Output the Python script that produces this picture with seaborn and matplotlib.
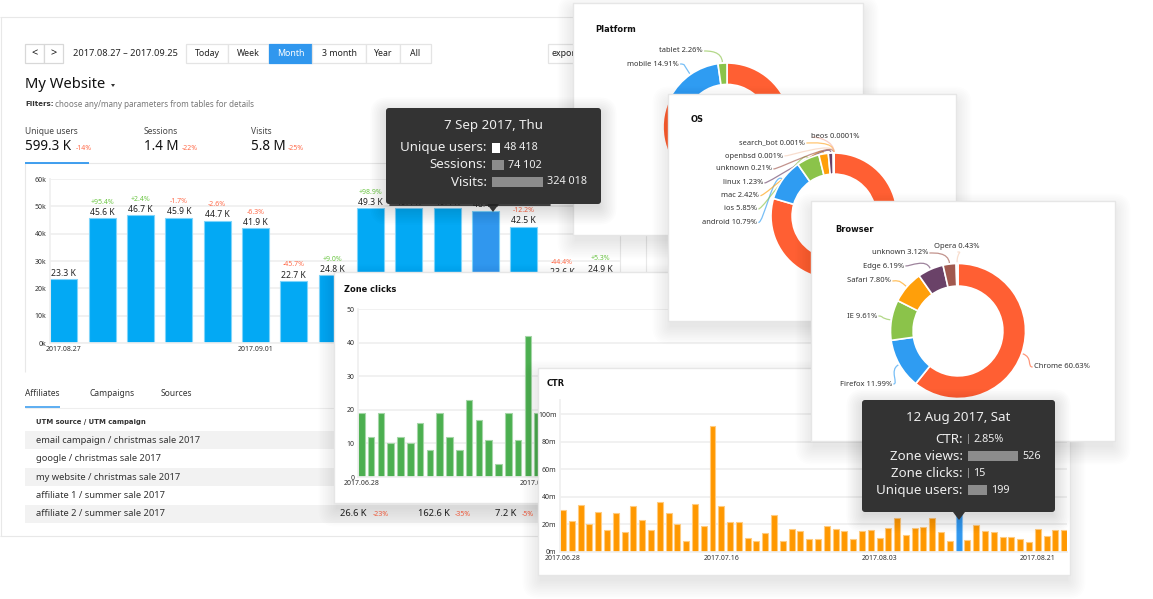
import matplotlib
matplotlib.use('Agg')
import matplotlib.pyplot as plt
import seaborn as sns
import numpy as np
import pandas as pd
from matplotlib.patches import Rectangle, FancyBboxPatch, Polygon, PathPatch
from matplotlib.path import Path

W, H = 1153, 599

# main chart
main_values = [23.3, 45.6, 46.7, 45.9, 44.7, 41.9, 22.7, 24.8, 49.3, 49.4, 49.4, 48.4, 42.5, 23.6, 24.9]
main_deltas = ['', '+95.4%', '+2.4%', '-1.7%', '-2.6%', '-6.3%', '-45.7%', '+9.0%', '+98.9%', '+0.2%', '0.0%', '-2.0%', '-12.2%', '-44.4%', '+5.3%']
main_labels = ['%.1f K' % v for v in main_values]

# zone clicks
zone_values = [19, 12, 19, 10, 12, 10, 16, 8, 19, 12, 8, 23, 17, 11, 4, 19, 11, 42, 19]

# ctr
ctr_values = [30, 22, 34, 20, 29, 15.7, 28, 14, 33, 23, 16, 36, 28, 20.3, 8, 34.4, 19, 91.5, 33, 21.5,
              21.5, 10, 7.7, 13.8, 27, 7.7, 16.5, 14.8, 9, 9, 19, 16.2, 15, 9.2, 15, 16, 10, 17, 24.5, 12.4,
              17.2, 18, 24.2, 14, 8, 28.5, 8.7, 19.6, 15, 14, 10.7, 11, 9.2, 7.3, 16.2, 11.4, 15.8, 15.8]

# donuts
platform_names = ['desktop', 'mobile', 'tablet']
platform_values = [82.83, 14.91, 2.26]
os_names = ['windows', 'android', 'ios', 'mac', 'linux', 'unknown', 'openbsd', 'search_bot', 'beos']
os_values = [79.49, 10.79, 5.85, 2.42, 1.23, 0.21, 0.001, 0.001, 0.0001]
os_text = ['', '10.79%', '5.85%', '2.42%', '1.23%', '0.21%', '0.001%', '0.001%', '0.0001%']
browser_names = ['Chrome', 'Firefox', 'IE', 'Safari', 'Edge', 'unknown', 'Opera']
browser_values = [60.63, 11.99, 9.61, 7.80, 6.19, 3.12, 0.43]

# tables and tooltips
table_rows = ['email campaign / christmas sale 2017', 'google / christmas sale 2017',
              'my website / christmas sale 2017', 'affiliate 1 / summer sale 2017',
              'affiliate 2 / summer sale 2017']
tip1_names = ['Unique users:', 'Sessions:', 'Visits:']
tip1_values = [48418, 74102, 324018]
tip2_names = ['CTR:', 'Zone views:', 'Zone clicks:', 'Unique users:']
tip2_values = [2.85, 526, 15, 199]
tip2_text = ['2.85%', '526', '15', '199']

BLUE = '#3097ee'
PIE_COLORS = ['#ff5f33', '#2f9cf2', '#8bc34a', '#ff9f0a', '#6a4268', '#a1594f', '#f5cdb5', '#ffa726', '#f7b5a5']
RED = '#ff6b4a'
GREEN = '#6cc644'
GRID = '#efefef'
TXT = '#222222'

sns.set_theme(style='white')
plt.rcParams['font.family'] = ['Noto Sans', 'DejaVu Sans']

fig = plt.figure(figsize=(W / 100, H / 100), dpi=100, facecolor='white')


def layer(z):
    ax = fig.add_axes([0, 0, 1, 1], zorder=z)
    ax.set_xlim(0, W)
    ax.set_ylim(H, 0)
    ax.axis('off')
    return ax


def sub(x0, y0, x1, y1, z):
    ax = fig.add_axes([x0 / W, 1 - y1 / H, (x1 - x0) / W, (y1 - y0) / H], zorder=z)
    ax.patch.set_alpha(0)
    return ax


def txt(ax, x, y, s, px=10, color=TXT, ha='left', weight='normal'):
    return ax.text(x, y, s, fontsize=px * 0.72, color=color, ha=ha, va='center', fontweight=weight)


def head(ax, x, y, s, px=8.3, color='#111111'):
    # Noto Sans here has no bold cut, so bold text goes through DejaVu
    return ax.text(x, y, s, fontsize=px * 0.72, color=color, va='center', fontweight='bold', family='DejaVu Sans')


def line(ax, x0, y0, x1, y1, color='#e8e8e8', lw=0.8):
    ax.plot([x0, x1], [y0, y1], color=color, lw=lw, solid_capstyle='butt')


def shadow(ax, x0, y0, x1, y1, off=8, a=0.0085):
    for k in range(12):
        e = k * 1.6 - 2
        ax.add_patch(FancyBboxPatch((x0 - e, y0 - e + off), x1 - x0 + 2 * e, y1 - y0 + 2 * e,
                                    boxstyle='round,pad=0,rounding_size=%.1f' % (k * 1.5 + 1),
                                    fc='black', ec='none', alpha=a))


def card(ax, x0, y0, x1, y1):
    shadow(ax, x0, y0, x1, y1)
    ax.add_patch(Rectangle((x0, y0), x1 - x0, y1 - y0, fc='white', ec='#e6e6e6', lw=1))


def bars(x0, y0, x1, y1, z, values, ymax, yticks, ylabels, pitch, width, color, edge, xticks, xlabels, start):
    ax = sub(x0, y0, x1, y1, z)
    days = pd.date_range(start, periods=len(values)).strftime('%Y.%m.%d')
    sns.barplot(x=list(days), y=values, color=color, saturation=1, width=width,
                edgecolor=edge, linewidth=0.8, ax=ax)
    ax.set_xlim(-width / 2 - 0.01, -width / 2 - 0.01 + (x1 - x0) / pitch)
    ax.set_ylim(0, ymax)
    ax.set_yticks(yticks, ylabels)
    ax.set_xticks(xticks, xlabels)
    ax.set_xlabel('')
    ax.set_ylabel('')
    ax.grid(axis='y', color=GRID, lw=1.2)
    ax.set_axisbelow(True)
    ax.tick_params(length=0, pad=2.5, labelsize=5, colors='#333333')
    for s in ['top', 'right']:
        ax.spines[s].set_visible(False)
    ax.spines['left'].set_color(GRID)
    ax.spines['bottom'].set_color(GRID)
    return ax


def donut(cx, cy, r, values, z):
    ax = sub(cx - r, cy - r, cx + r, cy + r, z)
    ax.pie(values, colors=PIE_COLORS, startangle=90, counterclock=False, radius=1,
           wedgeprops=dict(width=0.335, edgecolor='white', linewidth=1.2))
    ax.set_xlim(-1, 1)
    ax.set_ylim(-1, 1)
    for p in ax.patches:
        p.set_clip_on(False)
    return ax


def leaders(ax, cx, cy, r, values, ends):
    # curved line from the middle of each wedge out to its label
    vals = np.array(values, dtype=float)
    mids = (np.cumsum(vals) - vals / 2) / vals.sum() * 2 * np.pi
    for i, end in enumerate(ends):
        if end is None:
            continue
        dx, dy = np.sin(mids[i]), -np.cos(mids[i])
        p0 = (cx + dx * (r + 1), cy + dy * (r + 1))
        p1 = (cx + dx * (r + 12), cy + dy * (r + 12))
        side = 7 if end[0] < cx else -7
        p2 = (end[0] + side, end[1])
        p3 = (end[0] + side * 0.2, end[1])
        path = Path([p0, p1, p2, p3], [Path.MOVETO, Path.CURVE4, Path.CURVE4, Path.CURVE4])
        ax.add_patch(PathPatch(path, fc='none', ec=PIE_COLORS[i], lw=0.9, alpha=0.65))


def tooltip(ax, x0, y0, x1, y1, tipx):
    shadow(ax, x0, y0, x1, y1, off=5, a=0.011)
    ax.add_patch(FancyBboxPatch((x0, y0), x1 - x0, y1 - y0, boxstyle='round,pad=0,rounding_size=3',
                                fc='#333333', ec='none'))
    ax.add_patch(Polygon([(tipx - 6, y1), (tipx + 6, y1), (tipx, y1 + 8)], fc='#333333', ec='none'))


# ---- base dashboard
base = layer(1)
line(base, 0, 17, 575, 17)
line(base, 0.5, 17, 0.5, 536)
line(base, 0, 536, 540, 536)
for x0, x1, lab in [(25, 44, '<'), (44, 63, '>')]:
    base.add_patch(Rectangle((x0, 44), x1 - x0, 19, fc='white', ec='#d8d8d8', lw=0.9))
    txt(base, (x0 + x1) / 2, 53.5, lab, 11, ha='center', color='#111111')
txt(base, 73, 53.5, '2017.08.27 – 2017.09.25', 9.2)
for x0, x1, lab in [(186, 228, 'Today'), (228, 269, 'Week'), (269, 312, 'Month'),
                    (312, 366, '3 month'), (366, 400, 'Year'), (400, 431, 'All')]:
    on = lab == 'Month'
    base.add_patch(Rectangle((x0, 44), x1 - x0, 19, fc=BLUE if on else 'white', ec=BLUE if on else '#e4e4e4', lw=0.9))
    txt(base, (x0 + x1) / 2, 53.5, lab, 8.8, ha='center', color='white' if on else TXT)
base.add_patch(Rectangle((548, 44), 40, 19, fc='white', ec='#e4e4e4', lw=0.9))
txt(base, 552, 53.5, 'export', 8.8)
txt(base, 25, 85, 'My Website', 14.8, color='#111111')
base.add_patch(Polygon([(111, 84), (115, 84), (113, 87)], fc='#333333', ec='none'))
head(base, 25, 104.5, 'Filters:', 7, color='#333333')
txt(base, 55, 104.5, 'choose any/many parameters from tables for details', 8.1, color='#777777')
for x, dx, lab, val, d in [(25, 76, 'Unique users', '599.3 K', '-14%'), (144, 182, 'Sessions', '1.4 M', '-22%'),
                           (251, 288, 'Visits', '5.8 M', '-25%')]:
    txt(base, x, 131, lab, 8.5, color='#444444')
    txt(base, x, 147, val, 13.5, color='#111111')
    txt(base, dx, 149, d, 7, color=RED)
line(base, 25, 163, 620, 163)
line(base, 25, 163, 25, 372)
line(base, 25, 162.5, 89, 162.5, color=BLUE, lw=1.3)
line(base, 620, 163, 620, 290)
line(base, 646, 163, 646, 290)
txt(base, 25, 393, 'Affiliates', 8.5, color='#333333')
txt(base, 90, 393, 'Campaigns', 8.5, color='#333333')
txt(base, 161, 393, 'Sources', 8.5, color='#333333')
line(base, 25, 407.5, 340, 407.5, color='#eeeeee')
line(base, 25, 407, 60, 407, color=BLUE, lw=1.1)
head(base, 36, 422, 'UTM source / UTM campaign', 6.9, color='#333333')
for i, row in enumerate(table_rows):
    y0 = 431 + i * 18.4
    if i % 2 == 0:
        base.add_patch(Rectangle((25, y0), 515, 18.4, fc='#f2f2f2', ec='none'))
    txt(base, 36, y0 + 9.2, row, 9.35, color='#333333')
for x, s, c, px in [(340, '26.6 K', TXT, 9.3), (372.5, '-23%', RED, 7), (418, '162.6 K', TXT, 9.3),
                    (454.5, '-35%', RED, 7), (495, '7.2 K', TXT, 9.3), (522, '-5%', RED, 7)]:
    txt(base, x, 514, s, px, color=c)

# ---- main bars
main_ax = bars(50, 179, 620, 343, 2, main_values, 60, [0, 10, 20, 30, 40, 50, 60],
               ['0k', '10k', '20k', '30k', '40k', '50k', '60k'], 38.33, 0.705, '#03a9f4', '#7fd4fa',
               [0, 5], ['2017.08.27', '2017.09.01'], '2017-08-27')
main_ax.patches[11].set_facecolor(BLUE)
main_ax.bar_label(main_ax.containers[0], labels=main_labels, padding=1, fontsize=6.2, color=TXT)
deltas = main_ax.bar_label(main_ax.containers[0], labels=main_deltas, padding=9, fontsize=5)
for t, s in zip(deltas, main_deltas):
    t.set_color(GREEN if s.startswith('+') else RED)

# ---- zone clicks
zl = layer(3)
card(zl, 334, 272, 830, 503)
head(zl, 344, 289, 'Zone clicks')
bars(358, 309, 820, 477, 4, zone_values, 50, [0, 10, 20, 30, 40, 50], ['0', '10', '20', '30', '40', '50'],
     9.8, 0.66, '#4caf50', '#a5d6a7', [0, 18], ['2017.06.28', '2017.07.16'], '2017-06-28')

# ---- ctr
cl = layer(5)
card(cl, 538, 368, 1070, 575)
head(cl, 547, 383.5, 'CTR')
ctr_ax = bars(560, 400.4, 1067, 551.7, 6, ctr_values, 110, [0, 20, 40, 60, 80, 100],
              ['0m', '20m', '40m', '60m', '80m', '100m'], 8.79, 0.68, '#ff9800', '#ffcc80',
              [0, 18, 36, 54], ['2017.06.28', '2017.07.16', '2017.08.03', '2017.08.21'], '2017-06-28')
ctr_ax.patches[45].set_facecolor(BLUE)
ctr_ax.patches[45].set_edgecolor('#90caf9')

# ---- platform
pl = layer(7)
card(pl, 573, 3, 863, 235)
head(pl, 595, 30, 'Platform')
donut(727, 127, 64, platform_values, 8)
platform_pos = [None, (678.7, 64), (702.7, 51)]
for name, v, pos in zip(platform_names, platform_values, platform_pos):
    if pos:
        txt(pl, pos[0], pos[1], '%s %.2f%%' % (name, v), 7.5, color='#333333', ha='right')
leaders(pl, 727, 127, 64, platform_values, platform_pos)

# ---- os
ol = layer(9)
card(ol, 668, 94, 956, 321)
head(ol, 691, 120, 'OS')
donut(834, 216, 63, os_values, 10)
os_pos = [None, (757, 222.5), (757, 209), (759, 195.7), (763, 183), (772, 169), (783, 156), (805, 143), (811, 137)]
for name, s, pos in zip(os_names, os_text, os_pos):
    if pos:
        ha = 'left' if name == 'beos' else 'right'
        txt(ol, pos[0], pos[1], name + ' ' + s, 7.5, color='#333333', ha=ha)
leaders(ol, 834, 216, 63, os_values, os_pos)

# ---- browser
bl = layer(11)
card(bl, 811, 201, 1115, 441)
head(bl, 835, 229, 'Browser')
donut(958, 331, 67.5, browser_values, 12)
browser_pos = [(1034, 367), (892, 384), (877, 316), (891, 281), (904, 266), (928, 253), (934, 246.7)]
for i, (name, v, pos) in enumerate(zip(browser_names, browser_values, browser_pos)):
    ha = 'left' if name in ('Chrome', 'Opera') else 'right'
    txt(bl, pos[0], pos[1], '%s %.2f%%' % (name, v), 7.6, color='#333333', ha=ha)
leaders(bl, 958, 331, 67.5, browser_values,
        [(1034, 367), (892, 384), (877, 316), (891, 281), (904, 266), (928, 253), (956, 252)])

# ---- tooltip 1
t1 = layer(13)
t1.plot([390, 550], [205, 205], color='#222222', lw=1.2)
tooltip(t1, 386, 108, 601, 204, 493)
txt(t1, 493, 126, '7 Sep 2017, Thu', 13.3, color='#eeeeee', ha='center')
for i, (name, v) in enumerate(zip(tip1_names, tip1_values)):
    y = 148 + i * 17
    txt(t1, 487, y, name, 13.3, color='#eeeeee', ha='right')
    w = v * 51 / max(tip1_values)
    t1.add_patch(Rectangle((492, y - 5), w, 10, fc='white' if i == 0 else '#8c8c8c', ec='none'))
    txt(t1, 492 + w + 4, y, f'{v:,}'.replace(',', ' '), 10.8, color='#eeeeee')

# ---- tooltip 2
t2 = layer(14)
tooltip(t2, 862, 400, 1055, 512, 959)
txt(t2, 958, 418, '12 Aug 2017, Sat', 13.3, color='#eeeeee', ha='center')
for i, (name, v, s) in enumerate(zip(tip2_names, tip2_values, tip2_text)):
    y = 439.3 + i * 17
    txt(t2, 963, y, name, 13.3, color='#eeeeee', ha='right')
    w = max(1, v * 50 / 526)
    t2.add_patch(Rectangle((968, y - 5), w, 10, fc='#8c8c8c', ec='none'))
    txt(t2, 968 + w + 4, y, s, 10.8, color='#eeeeee')

fig.savefig('out.png', dpi=100)
